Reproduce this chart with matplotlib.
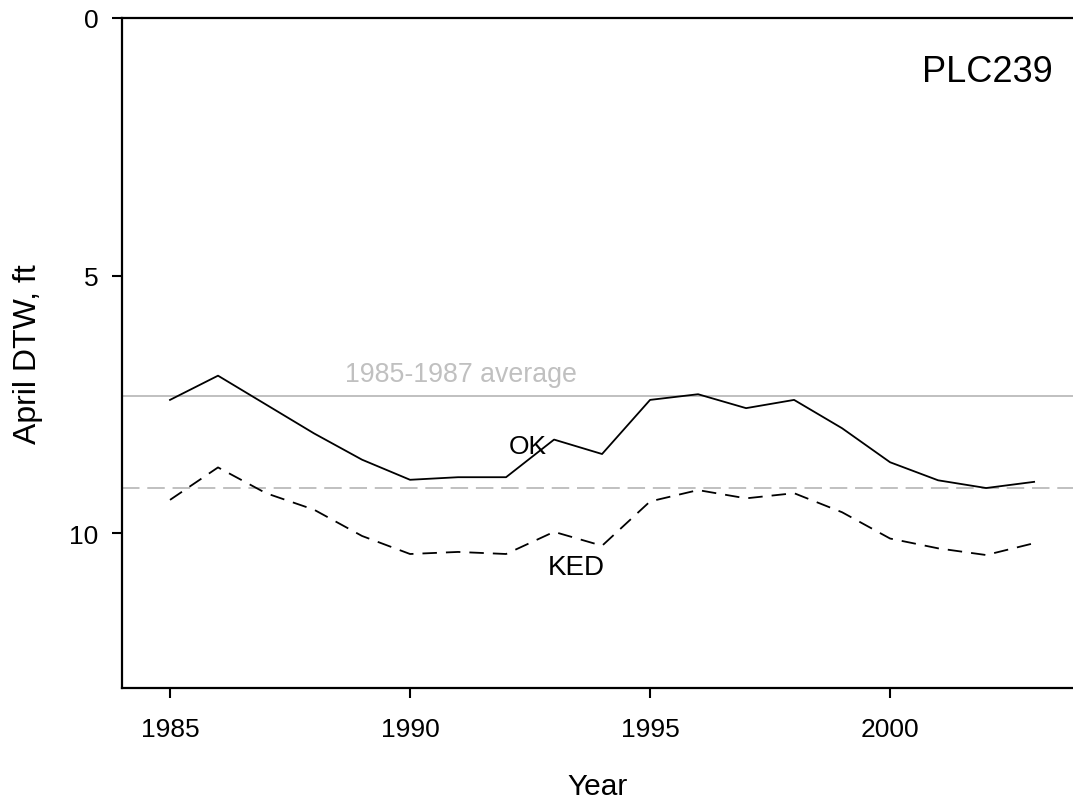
import matplotlib
matplotlib.use("Agg")
import matplotlib.pyplot as plt

plt.rcParams['font.family'] = ['Liberation Sans', 'DejaVu Sans']

years = [1985, 1986, 1987, 1988, 1989, 1990, 1991, 1992, 1993, 1994,
         1995, 1996, 1997, 1998, 1999, 2000, 2001, 2002, 2003]
ok = [7.41, 6.94, 7.50, 8.06, 8.57, 8.96, 8.91, 8.91, 8.18, 8.46,
      7.41, 7.30, 7.57, 7.41, 7.96, 8.62, 8.97, 9.12, 9.00]
ked = [9.35, 8.72, 9.22, 9.54, 10.05, 10.40, 10.36, 10.40, 9.97, 10.24,
       9.38, 9.16, 9.32, 9.22, 9.59, 10.10, 10.29, 10.42, 10.19]
ok_avg = 7.33
ked_avg = 9.12
xticks = [1985, 1990, 1995, 2000]
yticks = [0, 5, 10]

fig = plt.figure(figsize=(10.73, 8.03), dpi=100)
ax = fig.add_axes([122/1073, 1-689/803, 1-122/1073, (689-19)/803])

ax.axhline(ok_avg, color='#c0c0c0', lw=1.4, zorder=1)
ax.axhline(ked_avg, color='#c0c0c0', lw=1.4, dashes=(9, 4), zorder=1)
ax.plot(years, ok, color='black', lw=1.3, zorder=3)
ax.plot(years, ked, color='black', lw=1.3, dashes=(8, 5), zorder=3)

ax.set_xlim(1984, 2003.81)
ax.set_ylim(13, 0)
ax.set_xticks(xticks)
ax.set_yticks(yticks)
ax.tick_params(axis='both', direction='out', length=7, width=1.5, labelsize=19)
ax.tick_params(axis='x', pad=14)
ax.tick_params(axis='y', pad=10)

for s in ['left', 'top', 'bottom']:
    ax.spines[s].set_linewidth(1.6)
ax.spines['right'].set_visible(False)

ax.set_xlabel('Year', fontsize=21.5, labelpad=22)
ax.set_ylabel('April DTW, ft', fontsize=23, labelpad=19)

ax.text(0.979, 0.92, 'PLC239', transform=ax.transAxes, ha='right', va='center', fontsize=26)
ax.text(1988.65, 6.9, '1985-1987 average', color='#c0c0c0', fontsize=19.3, ha='left', va='center')
ax.text(1992.05, 8.3, 'OK', fontsize=19, ha='left', va='center', zorder=4)
ax.text(1993.46, 10.65, 'KED', fontsize=20, ha='center', va='center')

fig.savefig('out.png', dpi=100)
